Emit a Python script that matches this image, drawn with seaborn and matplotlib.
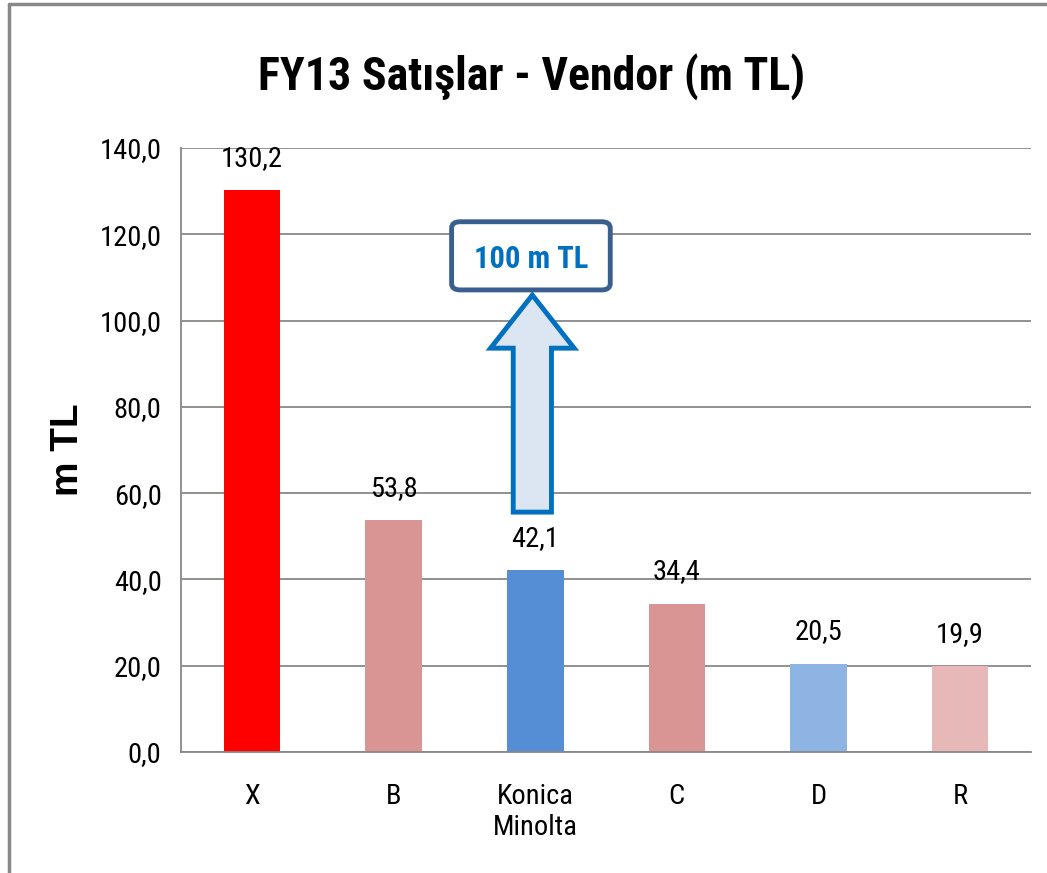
import matplotlib
matplotlib.use("Agg")
import matplotlib.pyplot as plt
import seaborn as sns
import pandas as pd
from matplotlib.patches import FancyArrow, FancyBboxPatch
from matplotlib.lines import Line2D
from matplotlib import font_manager

# data
vendors = ["X", "B", "Konica\nMinolta", "C", "D", "R"]
sales = [130.2, 53.8, 42.1, 34.4, 20.5, 19.9]
bar_colors = ["#FF0000", "#D99594", "#558ED5", "#D99594", "#8EB4E3", "#E6B9B8"]
y_ticks = [0, 20, 40, 60, 80, 100, 120, 140]
target_label = "100 m TL"

sns.set_style("white")
names = {f.name for f in font_manager.fontManager.ttflist}
base = "Liberation Sans"
for cand in ["Roboto Condensed", "Open Sans Condensed", "Liberation Sans Narrow", "Arial Narrow"]:
    if cand in names:
        base = cand
        break
plt.rcParams["font.family"] = [base, "DejaVu Sans"]
plt.rcParams["text.color"] = "black"

df = pd.DataFrame({"vendor": vendors, "sales": sales})

fig = plt.figure(figsize=(10.47, 8.73), dpi=100)
ax = fig.add_axes([0.1729, 0.1386, 0.8118, 0.6919])

sns.barplot(data=df, x="vendor", y="sales", hue="vendor", palette=bar_colors,
            width=0.4, legend=False, ax=ax, saturation=1, linewidth=0)

for cont in ax.containers:
    ax.bar_label(cont, labels=[f"{v:.1f}".replace(".", ",") for v in cont.datavalues],
                 padding=13, fontsize=20.5, color="black")

ax.set_ylim(0, 140)
ax.set_xlim(-0.5, len(vendors) - 0.5)
ax.set_yticks(y_ticks)
ax.set_yticklabels([f"{t:.1f}".replace(".", ",") for t in y_ticks], fontsize=20.5)
ax.tick_params(axis="y", length=6, width=1.2, color="#888888", pad=8, labelcolor="black")
ax.tick_params(axis="x", length=0, pad=22, labelsize=20.5, labelcolor="black")
ax.grid(axis="y", color="#888888", linewidth=1.3)
ax.set_axisbelow(True)
for s in ["top", "right"]:
    ax.spines[s].set_visible(False)
for s in ["left", "bottom"]:
    ax.spines[s].set_color("#888888")
    ax.spines[s].set_linewidth(1.3)

ax.set_xlabel("")
ax.set_ylabel("")
fig.text(68 / 1047, 1 - 450 / 873, "m TL", rotation=90, ha="center", va="center",
         fontsize=28, fontweight="bold", color="black", family=["Liberation Sans", "DejaVu Sans"])
fig.text(0.508, 0.912, "FY13 Satışlar - Vendor (m TL)", ha="center", va="center",
         fontsize=33, fontweight="bold", color="black")

# arrow towards the target
arrow = FancyArrow(1.98, 55.6, 0, 50.3, width=0.27, head_width=0.59, head_length=12.3,
                   length_includes_head=True, facecolor="#DCE6F2", edgecolor="#0070C0",
                   linewidth=3.5, zorder=4)
ax.add_patch(arrow)

box = FancyBboxPatch((1.41, 107.1), 1.12, 15.8, boxstyle="round,pad=0,rounding_size=0.06",
                     mutation_aspect=25, facecolor="white", edgecolor="#3A5F8F",
                     linewidth=3.5, zorder=5)
ax.add_patch(box)
ax.text(1.97, 114.3, target_label, ha="center", va="center", fontsize=22,
        fontweight="bold", color="#0070C0", zorder=6)

# chart frame
fig.add_artist(Line2D([9 / 1047, 9 / 1047], [0, 1 - 4 / 873], color="#888888", linewidth=2.5))
fig.add_artist(Line2D([9 / 1047, 1], [1 - 4 / 873, 1 - 4 / 873], color="#888888", linewidth=2.5))

fig.savefig("out.png", dpi=100)
